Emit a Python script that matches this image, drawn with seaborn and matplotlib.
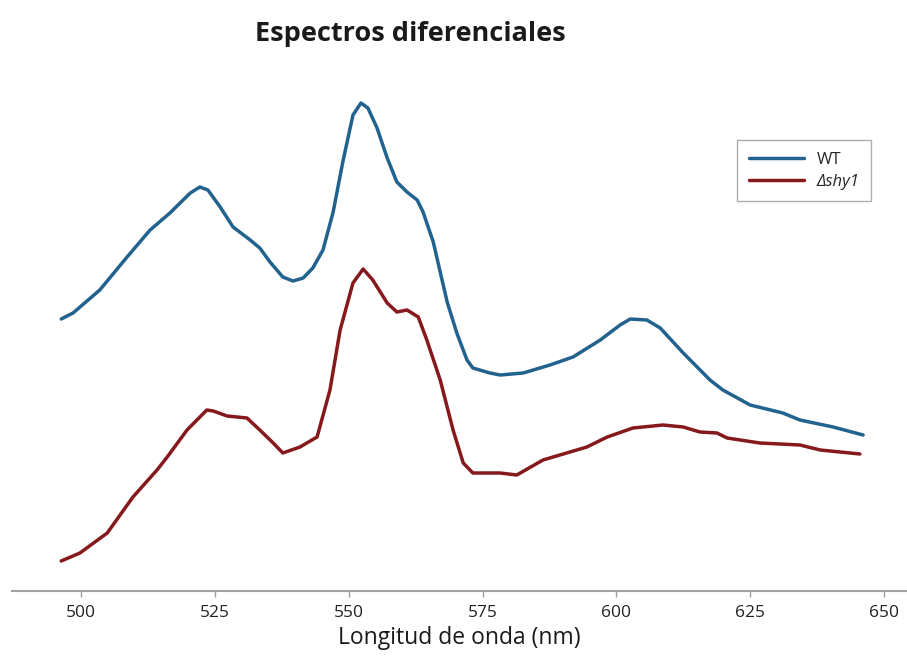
import matplotlib
matplotlib.use("Agg")
import matplotlib.pyplot as plt
import pandas as pd
import seaborn as sns

# Differential spectra (wavelength in nm, ΔA in arbitrary units x10^-3)
wt_nm = [496.3, 498.5, 503.5, 508.6, 512.9, 516.6, 520.4, 522.2, 523.7, 526.0,
         528.4, 531.6, 533.4, 535.3, 537.7, 539.6, 541.5, 543.3, 545.2, 547.1,
         548.9, 550.8, 552.3, 553.6, 555.3, 557.2, 559.0, 560.9, 562.8, 563.9,
         565.8, 568.4, 570.2, 572.1, 573.2, 576.4, 578.3, 582.6, 587.6, 591.9,
         597.0, 600.7, 602.6, 605.7, 608.2, 612.5, 617.5, 619.9, 625.0, 631.1,
         634.3, 640.5, 646.1]
wt_abs = [27.2, 27.8, 30.1, 33.4, 36.1, 37.8, 39.8, 40.4, 40.1, 38.4,
          36.4, 35.1, 34.3, 32.9, 31.4, 31.0, 31.3, 32.3, 34.1, 37.9,
          42.9, 47.6, 48.8, 48.3, 46.3, 43.3, 40.9, 39.9, 39.1, 37.9,
          34.9, 28.9, 25.8, 23.1, 22.3, 21.8, 21.6, 21.8, 22.6, 23.4,
          25.1, 26.6, 27.2, 27.1, 26.3, 23.8, 21.1, 20.1, 18.6, 17.8,
          17.1, 16.4, 15.6]

shy1_nm = [496.3, 499.8, 504.9, 509.7, 514.2, 516.1, 519.8, 523.5, 524.7, 527.3,
           531.0, 533.4, 535.9, 537.7, 540.9, 544.1, 546.5, 548.4, 550.8, 552.7,
           554.5, 557.2, 559.0, 560.9, 563.0, 564.6, 567.1, 569.5, 571.4, 573.2,
           576.4, 578.3, 581.4, 586.3, 594.5, 598.3, 603.1, 608.7, 612.5, 615.6,
           618.8, 620.7, 626.8, 634.3, 638.1, 645.5]
shy1_abs = [3.0, 3.8, 5.8, 9.4, 12.1, 13.4, 16.1, 18.1, 18.0, 17.5,
            17.3, 16.1, 14.8, 13.8, 14.4, 15.4, 20.1, 26.1, 30.8, 32.2,
            31.1, 28.8, 27.9, 28.1, 27.4, 25.1, 21.1, 16.1, 12.8, 11.8,
            11.8, 11.8, 11.6, 13.1, 14.4, 15.4, 16.3, 16.6, 16.4, 15.9,
            15.8, 15.3, 14.8, 14.6, 14.1, 13.7]

series_names = ["WT", "Δshy1"]
x_ticks = [500, 525, 550, 575, 600, 625, 650]

df = pd.concat([
    pd.DataFrame({"nm": wt_nm, "abs": wt_abs, "cepa": series_names[0]}),
    pd.DataFrame({"nm": shy1_nm, "abs": shy1_abs, "cepa": series_names[1]}),
], ignore_index=True)

sns.set_theme(style="white")
plt.rcParams["font.family"] = ["Open Sans", "DejaVu Sans"]

fig = plt.figure(figsize=(9.07, 6.56), dpi=100)
ax = fig.add_axes([0.0132, 0.0991, 0.9868, 0.8094])

sns.lineplot(data=df, x="nm", y="abs", hue="cepa", sort=False,
             palette={"WT": "#22628f", "Δshy1": "#85191c"},
             linewidth=2.5, ax=ax)

ax.set_xlim(487.1, 654.3)
ax.set_ylim(0, 53.1)
ax.set_xticks(x_ticks)
ax.set_xticklabels([str(t) for t in x_ticks], fontsize=12.5)
ax.set_yticks([])
ax.set_ylabel("")
ax.set_xlabel("Longitud de onda (nm)", fontsize=16.5, labelpad=4,
              color="#1a1a1a")

for side in ["left", "right", "top"]:
    ax.spines[side].set_visible(False)
ax.spines["bottom"].set_color("#a0a0a0")
ax.spines["bottom"].set_linewidth(1.5)
ax.tick_params(axis="x", bottom=True, direction="out", length=4, width=1,
               color="#a0a0a0", pad=6, labelcolor="#222222")

fig.text(0.452, 0.948, "Espectros diferenciales", ha="center", va="center",
         fontsize=19.5, fontweight="bold", color="#1a1a1a")

leg = ax.legend(loc="upper left", bbox_to_anchor=(0.810, 0.849), frameon=True,
                fancybox=False, fontsize=12, handlelength=3.3,
                borderpad=0.7, labelspacing=0.35, borderaxespad=0.0,
                handletextpad=0.8, title=None)
leg.get_frame().set_edgecolor("#999999")
leg.get_frame().set_linewidth(1.0)
for txt in leg.get_texts():
    if txt.get_text() == "Δshy1":
        txt.set_fontstyle("italic")

fig.savefig("out.png", dpi=100)
